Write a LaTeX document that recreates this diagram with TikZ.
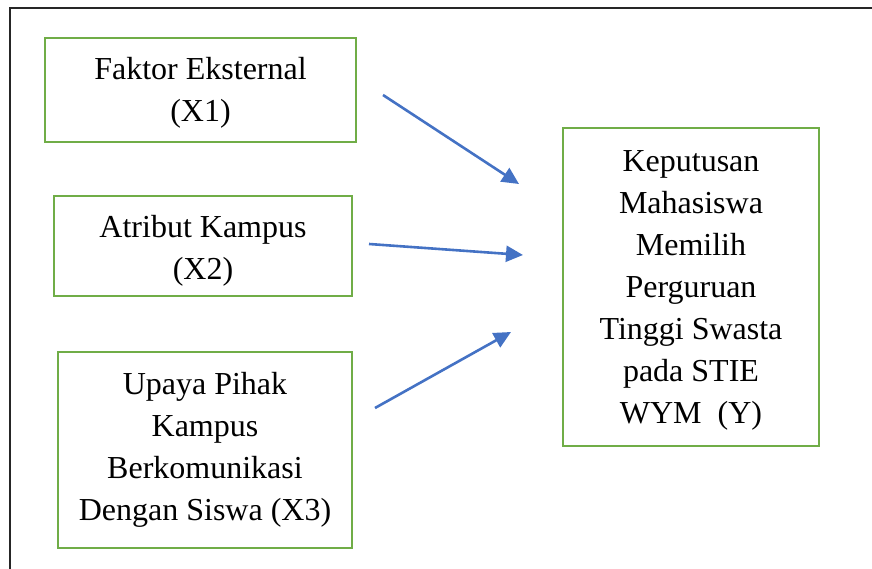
\documentclass[tikz,border=0pt]{standalone}
\usepackage{fontspec}
\setmainfont{Liberation Serif}
\usetikzlibrary{arrows.meta}
\definecolor{boxgreen}{HTML}{70AD47}
\definecolor{arrowblue}{HTML}{4472C4}
\begin{document}
\begin{tikzpicture}[x=1pt,y=-1pt,
  box/.style={draw=boxgreen,line width=2.2pt,inner sep=0pt},
  txt/.style={align=center,inner sep=0pt,font=\fontsize{32}{42}\selectfont},
  conn/.style={draw=arrowblue,line width=2.6pt,-{Triangle[length=17pt,width=16pt]}}]
\useasboundingbox (0,0) rectangle (872,569);
% outer frame
\draw[line width=1.3pt,black!85] (10,569) -- (10,8) -- (872,8);
% boxes
\node[box,minimum width=311,minimum height=104] (x1) at (200.5,90) {};
\node[txt] (x1t) at ([yshift=-3pt]x1.center) {Faktor Eksternal\\(X1)};
\node[box,minimum width=298,minimum height=100] (x2) at (203,246) {};
\node[txt] (x2t) at ([yshift=-5pt]x2.center) {Atribut Kampus\\(X2)};
\node[box,minimum width=294,minimum height=196] (x3) at (205,450) {};
\node[txt] (x3t) at ([yshift=0pt]x3.center) {Upaya Pihak\\Kampus\\Berkomunikasi\\Dengan Siswa (X3)};
\node[box,minimum width=256,minimum height=318] (y) at (691,287) {};
\node[txt] (yt) at ([yshift=-3pt]y.center) {Keputusan\\Mahasiswa\\Memilih\\Perguruan\\Tinggi Swasta\\pada STIE\\WYM\ \ (Y)};
% arrow ends
\coordinate (a1s) at (383,95);
\coordinate (a1e) at (519,184);
\coordinate (a2s) at (369,244);
\coordinate (a2e) at (523,255);
\coordinate (a3s) at (375,408);
\coordinate (a3e) at (511,332);
\draw[conn] (a1s) -- (a1e);
\draw[conn] (a2s) -- (a2e);
\draw[conn] (a3s) -- (a3e);
\end{tikzpicture}
\end{document}
